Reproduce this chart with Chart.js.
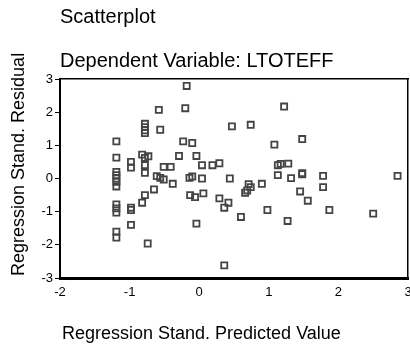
<!DOCTYPE html>
<html>
<head>
<meta charset="utf-8">
<script src="https://cdn.jsdelivr.net/npm/chart.js@4"></script>
<style>
  body { margin: 0; background: #fff; }
  #wrap { width: 410px; height: 346px; }
</style>
</head>
<body>
<div id="wrap"><canvas id="myChart" width="410" height="346"></canvas></div>
<script>
// Data
var predicted = [
  -1.19,-1.19,-1.19,-1.19,-1.19,-1.19,-1.19,-1.19,-1.19,-1.19,-1.19,-1.19,
  -0.98,-0.98,-0.98,-0.98,-0.98,
  -0.82,-0.82,
  -0.78,-0.78,-0.78,-0.78,-0.78,-0.78,-0.78,-0.78,
  -0.73,-0.74,-0.65,-0.61,-0.58,-0.56,-0.56,-0.51,-0.51,-0.41,-0.38,
  -0.29,-0.23,-0.20,-0.18,-0.14,-0.13,-0.10,-0.10,-0.06,-0.04,-0.04,
  0.04,0.04,0.06,0.19,0.29,0.29,0.36,0.36,0.42,0.44,0.47,
  0.60,0.66,0.69,0.71,0.74,0.74,0.90,0.98,
  1.08,1.13,1.13,1.17,1.22,1.27,1.28,1.32,1.45,1.48,1.48,1.48,1.56,
  1.78,1.78,1.87,2.50,2.85
]
var residual = [
  1.12,0.63,0.20,0.10,0.00,-0.10,-0.24,-0.78,-0.90,-1.03,-1.60,-1.78,
  0.50,0.33,-0.88,-0.95,-1.40,
  0.72,-0.73,
  0.62,1.65,1.55,1.45,1.37,0.40,0.17,-0.50,
  0.67,-1.96,-0.33,0.07,2.07,1.47,0.02,-0.03,0.35,0.35,-0.16,
  0.68,1.12,2.12,2.79,0.02,-0.50,1.07,0.06,-0.56,0.68,-1.36,
  0.00,0.40,-0.45,0.40,0.46,-0.60,-0.88,-2.62,-0.73,0.00,1.57,
  -1.16,-0.43,-0.36,-0.17,1.62,-0.26,-0.16,-0.95,
  1.02,0.40,0.10,0.44,2.17,-1.28,0.45,0.01,-0.39,1.19,0.13,0.16,-0.67,
  0.08,-0.26,-0.95,-1.06,0.08
]
var xTicks = [-2, -1, 0, 1, 2, 3]
var yTicks = [-3, -2, -1, 0, 1, 2, 3]

var titleText = 'Scatterplot'
var subtitleText = 'Dependent Variable: LTOTEFF'
var xTitle = 'Regression Stand. Predicted Value'
var yTitle = 'Regression Stand. Residual'

var FONT = '"Liberation Sans", Arial, Helvetica, sans-serif'

var points = predicted.map(function(x, i){ return { x: x, y: residual[i] } })

// titles drawn as text next to the plot box
var textPlugin = {
  id: 'spssText',
  afterDraw: function(chart){
    var ctx = chart.ctx
    var a = chart.chartArea
    ctx.save()
    ctx.fillStyle = '#000'
    ctx.textAlign = 'left'
    ctx.textBaseline = 'alphabetic'
    ctx.font = '20px ' + FONT
    ctx.fillText(titleText, a.left, 23)
    ctx.fillText(subtitleText, a.left, 67)
    ctx.font = '18px ' + FONT
    ctx.fillText(xTitle, a.left + 2, 339)
    ctx.translate(24, a.bottom - 2)
    ctx.rotate(-Math.PI / 2)
    ctx.fillText(yTitle, 0, 0)
    ctx.restore()
  }
}

var ctx1 = document.getElementById('myChart')

new Chart(ctx1, {
  type: 'scatter',
  data: {
    datasets: [{
      label: 'Residual',
      data: points,
      pointStyle: 'rect',
      pointRadius: 4.3,
      pointHoverRadius: 4.3,
      borderWidth: 1.8,
      borderColor: '#444',
      backgroundColor: 'rgba(0,0,0,0)'
    }]
  },
  options: {
    responsive: false,
    animation: false,
    devicePixelRatio: 1,
    layout: { autoPadding: false, padding: { top: 79, right: 2, left: 0, bottom: 0 } },
    plugins: {
      legend: { display: false },
      tooltip: { enabled: false }
    },
    scales: {
      x: {
        type: 'linear',
        position: 'bottom',
        min: xTicks[0],
        max: xTicks[xTicks.length - 1],
        afterBuildTicks: function(s){ s.ticks = xTicks.map(function(v){ return { value: v } }) },
        afterFit: function(s){ s.height = 68; s.paddingLeft = 0; s.paddingRight = 0 },
        grid: { drawOnChartArea: false, drawTicks: false },
        border: { display: true, color: '#000', width: 3 },
        ticks: { color: '#000', padding: 7, font: { family: FONT, size: 13 } }
      },
      y: {
        type: 'linear',
        position: 'left',
        min: yTicks[0],
        max: yTicks[yTicks.length - 1],
        afterBuildTicks: function(s){ s.ticks = yTicks.map(function(v){ return { value: v } }) },
        afterFit: function(s){ s.width = 60; s.paddingTop = 0; s.paddingBottom = 0 },
        grid: { drawOnChartArea: false, drawTicks: true, tickLength: 5, color: '#000', lineWidth: 1 },
        border: { display: true, color: '#000', width: 2 },
        ticks: { color: '#000', padding: 2, font: { family: FONT, size: 13 } }
      },
      x2: {
        type: 'linear',
        position: 'top',
        min: xTicks[0],
        max: xTicks[xTicks.length - 1],
        afterFit: function(s){ s.height = 0; s.paddingLeft = 0; s.paddingRight = 0 },
        grid: { drawOnChartArea: false, drawTicks: false },
        border: { display: true, color: '#000', width: 1.5 },
        ticks: { display: false }
      },
      y2: {
        type: 'linear',
        position: 'right',
        min: yTicks[0],
        max: yTicks[yTicks.length - 1],
        afterFit: function(s){ s.width = 0; s.paddingTop = 0; s.paddingBottom = 0 },
        grid: { drawOnChartArea: false, drawTicks: false },
        border: { display: true, color: '#000', width: 1.5 },
        ticks: { display: false }
      }
    }
  },
  plugins: [textPlugin]
})
</script>
</body>
</html>
